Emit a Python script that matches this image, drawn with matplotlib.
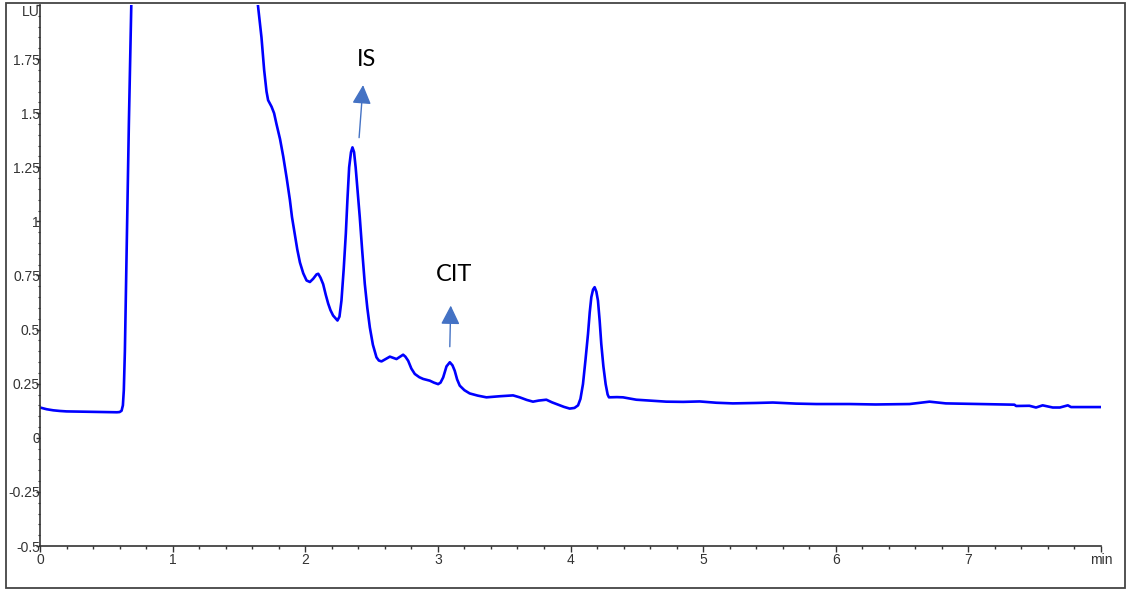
import numpy as np
import matplotlib.pyplot as plt
from matplotlib.patches import Rectangle
from matplotlib.ticker import MultipleLocator

# chromatogram trace (retention time in min, fluorescence in LU)
time_min = [0.00, 0.05, 0.10, 0.15, 0.20, 0.30, 0.40, 0.50, 0.58, 0.60,
            0.615, 0.625, 0.632, 0.64, 0.65, 0.66, 0.67, 0.68, 0.69, 0.72,
            0.78, 0.90, 1.05, 1.20, 1.35, 1.50, 1.60, 1.643, 1.67, 1.69,
            1.708, 1.72, 1.746, 1.765, 1.783, 1.81, 1.834, 1.86, 1.884, 1.90,
            1.921, 1.94, 1.96, 1.985, 2.01, 2.035, 2.06, 2.085, 2.098, 2.115,
            2.135, 2.155, 2.173, 2.19, 2.21, 2.243, 2.258, 2.273, 2.29, 2.306,
            2.318, 2.331, 2.345, 2.356, 2.368, 2.38, 2.395, 2.411, 2.43, 2.449,
            2.468, 2.487, 2.51, 2.537, 2.555, 2.575, 2.61, 2.638, 2.66, 2.688,
            2.715, 2.738, 2.755, 2.776, 2.80, 2.826, 2.86, 2.889, 2.939, 2.97,
            3.002, 3.02, 3.04, 3.065, 3.09, 3.11, 3.127, 3.145, 3.165, 3.20,
            3.24, 3.30, 3.366, 3.466, 3.567, 3.617, 3.67, 3.717, 3.76, 3.818,
            3.86, 3.906, 3.95, 3.994, 4.03, 4.057, 4.075, 4.094, 4.113, 4.132,
            4.145, 4.157, 4.17, 4.182, 4.195, 4.207, 4.22, 4.232, 4.248, 4.265,
            4.28, 4.29, 4.35, 4.396, 4.496, 4.60, 4.722, 4.85, 4.974, 5.10,
            5.224, 5.40, 5.526, 5.70, 5.853, 6.105, 6.30, 6.556, 6.707, 6.83,
            7.11, 7.347, 7.36, 7.46, 7.51, 7.56, 7.636, 7.69, 7.75, 7.774,
            7.99]
signal_lu = [0.140, 0.132, 0.127, 0.124, 0.122, 0.121, 0.120, 0.119, 0.118, 0.119,
             0.125, 0.15, 0.22, 0.40, 0.75, 1.10, 1.45, 1.75, 2.05, 2.9,
             4.0, 5.0, 5.3, 5.0, 4.2, 3.1, 2.35, 2.0, 1.85, 1.70,
             1.60, 1.56, 1.53, 1.50, 1.45, 1.38, 1.30, 1.20, 1.10, 1.02,
             0.94, 0.87, 0.81, 0.76, 0.727, 0.72, 0.735, 0.755, 0.758, 0.74,
             0.71, 0.66, 0.62, 0.59, 0.565, 0.542, 0.56, 0.634, 0.78, 0.944,
             1.10, 1.25, 1.32, 1.342, 1.32, 1.25, 1.14, 1.02, 0.86, 0.711,
             0.60, 0.51, 0.43, 0.372, 0.357, 0.353, 0.365, 0.375, 0.370, 0.364,
             0.375, 0.384, 0.375, 0.356, 0.32, 0.295, 0.28, 0.272, 0.264, 0.255,
             0.248, 0.255, 0.279, 0.33, 0.349, 0.335, 0.31, 0.27, 0.241, 0.22,
             0.205, 0.195, 0.187, 0.192, 0.196, 0.187, 0.175, 0.167, 0.172, 0.176,
             0.164, 0.153, 0.143, 0.135, 0.138, 0.150, 0.18, 0.248, 0.36, 0.48,
             0.58, 0.650, 0.685, 0.696, 0.675, 0.634, 0.54, 0.434, 0.33, 0.248,
             0.20, 0.187, 0.188, 0.187, 0.176, 0.172, 0.167, 0.166, 0.168, 0.162,
             0.159, 0.161, 0.163, 0.158, 0.156, 0.156, 0.154, 0.156, 0.167, 0.159,
             0.156, 0.153, 0.147, 0.148, 0.140, 0.150, 0.140, 0.140, 0.150, 0.142,
             0.142]

# peak labels: text position, arrow tail, arrow tip
peak_names = ["IS", "CIT"]
label_pos = [(2.46, 1.75), (3.12, 0.755)]
arrow_tail = [(2.406, 1.387), (3.09, 0.421)]
arrow_tip = [(2.436, 1.63), (3.097, 0.611)]

x_ticks = [0, 1, 2, 3, 4, 5, 6, 7, 8]
x_labels = ["0", "1", "2", "3", "4", "5", "6", "7", "min"]
y_ticks = [-0.5, -0.25, 0, 0.25, 0.5, 0.75, 1, 1.25, 1.5, 1.75, 2.0]
y_labels = ["-0.5", "-0.25", "0", "0.25", "0.5", "0.75", "1", "1.25", "1.5", "1.75", "LU"]

plt.rcParams['font.family'] = ['Liberation Sans', 'DejaVu Sans']
fig = plt.figure(figsize=(11.26, 5.91), dpi=100)
ax = fig.add_axes([40/1126, 1-546/591, 1061/1126, 541/591])

ax.plot(time_min, signal_lu, color='#0000ff', lw=1.9, solid_joinstyle='round')

for name, pos, tail, tip in zip(peak_names, label_pos, arrow_tail, arrow_tip):
    ax.annotate('', xy=tip, xytext=tail,
                arrowprops=dict(arrowstyle='-|>', color='#4472c4', lw=1.0,
                                mutation_scale=29, shrinkA=0, shrinkB=0))
    ax.text(pos[0], pos[1], name, ha='center', va='center', fontsize=17,
            family=['Lato', 'DejaVu Sans'], color='black')

ax.set_xlim(0, 8)
ax.set_ylim(-0.5, 2.0)
ax.set_xticks(x_ticks)
ax.set_xticklabels(x_labels)
ax.set_yticks(y_ticks)
ax.set_yticklabels(y_labels)
ax.xaxis.set_minor_locator(MultipleLocator(0.2))
ax.yaxis.set_minor_locator(MultipleLocator(0.05))
# unit label sits just under the top of the axis
ax.get_yticklabels()[-1].set_va('top')

ax.spines['top'].set_visible(False)
ax.spines['right'].set_visible(False)
for s in ['left', 'bottom']:
    ax.spines[s].set_color('#333333')
    ax.spines[s].set_linewidth(1.2)

ax.tick_params(axis='x', which='major', direction='out', length=4, width=1,
               color='#333333', labelsize=10, labelcolor='#333333', pad=1)
ax.tick_params(axis='x', which='minor', direction='out', length=2.5, width=1,
               color='#333333')
ax.tick_params(axis='y', which='major', direction='out', length=3, width=1,
               color='#333333', labelsize=10, labelcolor='#333333', pad=-3)
ax.tick_params(axis='y', which='minor', direction='out', length=1.5, width=0.8,
               color='#333333')

# outer border round the whole figure
fig.patches.append(Rectangle((6/1126, 3/591), 1119/1126, 585/591, transform=fig.transFigure,
                             fill=False, edgecolor='#444444', lw=1.3))

fig.savefig('out.png', dpi=100)
